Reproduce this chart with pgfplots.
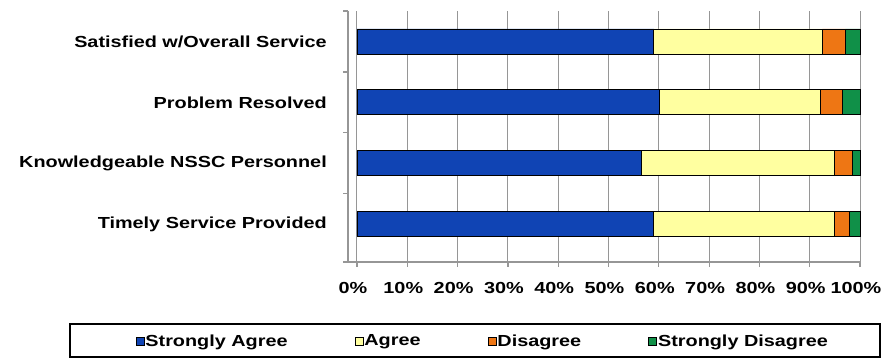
\documentclass[border=0pt]{standalone}
\usepackage{pgfplots}
\pgfplotsset{compat=1.18}
\usepackage{fontspec}
\setmainfont[FakeStretch=1.24]{Liberation Sans}
\definecolor{sablue}{RGB}{16,68,180}
\definecolor{agyellow}{RGB}{255,255,160}
\definecolor{dsorange}{RGB}{238,118,20}
\definecolor{sdgreen}{RGB}{16,144,72}
\definecolor{gridgray}{RGB}{150,150,150}
\pgfplotsset{sqlegend/.style={legend image code/.code={\draw[##1,draw=black,line width=0.8pt] (0pt,-4pt) rectangle (8pt,4pt);}}}
\begin{document}
\begin{tikzpicture}[x=1pt,y=1pt]
\path[use as bounding box] (0,0) rectangle (887,358);
\begin{axis}[
  at={(357pt,96pt)}, anchor=south west,
  scale only axis, width=503pt, height=251pt,
  xbar stacked, bar width=25pt,
  xmin=0, xmax=100, ymin=-0.62, ymax=3.5,
  clip=false,
  axis line style={draw=none},
  xtick pos=bottom, ytick pos=left,
  /pgf/number format/assume math mode=true,
  font=\fontsize{16}{18}\selectfont\bfseries,
  xtick={0,10,...,100},
  xticklabel={\pgfmathprintnumber{\tick}\%},
  xticklabel style={inner sep=0pt, yshift=-15pt, xshift=-4pt},
  ytick={0,1,2,3},
  yticklabels={Timely Service Provided, Knowledgeable NSSC Personnel, Problem Resolved, Satisfied w/Overall Service},
  yticklabel style={inner sep=0pt, xshift=-25pt},
  ytick style={draw=none},
  tick align=outside,
  xtick style={draw=gridgray, line width=1.2pt},
  major tick length=5pt,
  xmajorgrids,
  major grid style={draw=gridgray, line width=1pt},
  legend columns=4,
  legend style={at={(axis description cs:0.249,-0.315)}, anchor=center, draw=none, fill=none,
    font=\fontsize{16}{18}\selectfont\bfseries,
    nodes={inner sep=1pt},
    /tikz/every even column/.append style={column sep=66pt}},
]
\draw[gridgray, line width=1.5pt] (axis cs:-1.8,3.5) -- (axis cs:-1.8,-0.62) -- (axis cs:100,-0.62);
\pgfplotsinvokeforeach{-0.62,0.5,1.5,2.5,3.5}{\draw[gridgray, line width=1.2pt] (axis cs:-1.8,#1) -- ++(-5pt,0pt);}
\addplot[fill=sablue, draw=black, line width=0.9pt, sqlegend] coordinates {(59.0,0) (56.5,1) (60.2,2) (59.0,3)};
\addplot[fill=agyellow, draw=black, line width=0.9pt, sqlegend] coordinates {(35.9,0) (38.4,1) (32.0,2) (33.5,3)};
\addplot[fill=dsorange, draw=black, line width=0.9pt, sqlegend] coordinates {(3.1,0) (3.6,1) (4.4,2) (4.6,3)};
\addplot[fill=sdgreen, draw=black, line width=0.9pt, sqlegend] coordinates {(2.0,0) (1.5,1) (3.4,2) (2.9,3)};
\legend{Strongly Agree, Agree, Disagree, Strongly Disagree}
\end{axis}
\draw[black, line width=1.2pt] (70,1) rectangle (880,34);
\end{tikzpicture}
\end{document}
